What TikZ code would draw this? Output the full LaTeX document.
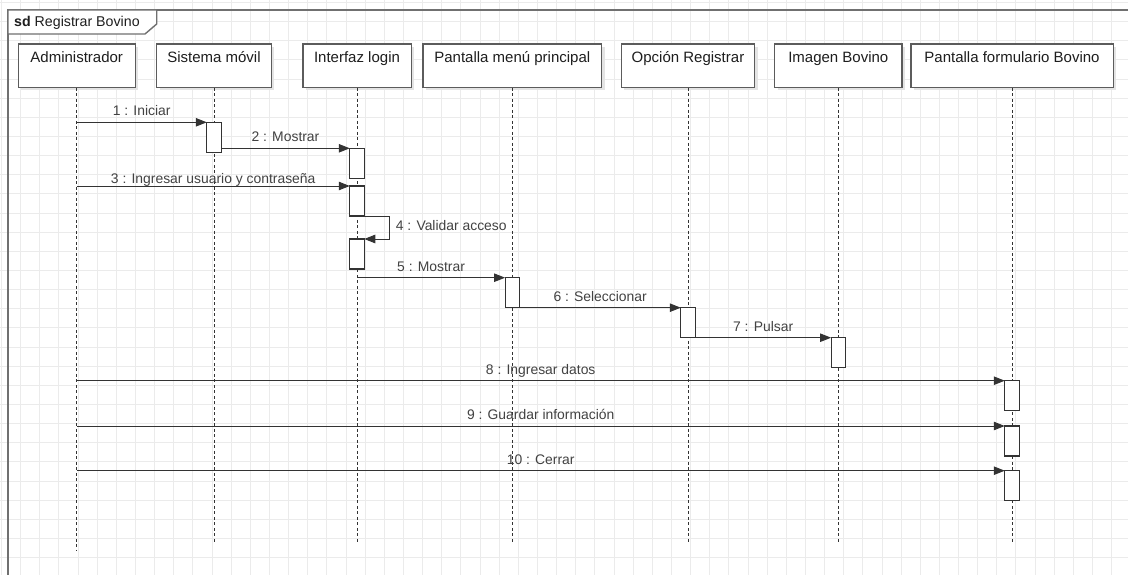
\documentclass[tikz,border=0pt]{standalone}
\usepackage{fontspec}
\setmainfont{Liberation Sans}
\usetikzlibrary{arrows.meta,shadows}

\definecolor{gridline}{HTML}{EBEBEB}
\definecolor{framec}{HTML}{707070}
\definecolor{boxc}{HTML}{5C5C5C}
\definecolor{shadowc}{HTML}{E4E4E4}
\definecolor{inkc}{HTML}{333333}
\definecolor{headtext}{HTML}{1E1E1E}
\definecolor{labelc}{HTML}{424242}

\tikzset{
  gridstroke/.style={draw=gridline, line width=1pt},
  frame/.style={draw=framec, line width=1.4pt},
  head/.style={draw=boxc, line width=1.3pt, fill=white,
    drop shadow={shadow xshift=3pt, shadow yshift=-3pt, fill=shadowc, opacity=1},
    inner xsep=0pt, inner ysep=0pt, minimum height=43.3pt,
    text height=19pt, text depth=24.3pt, text=headtext,
    font=\fontsize{15}{18}\selectfont},
  lifeline/.style={draw=inkc, line width=0.9pt, dash pattern=on 3pt off 2.5pt},
  act/.style={draw=inkc, line width=1.1pt, fill=white, inner sep=0pt, outer sep=0pt,
    minimum width=14.5pt, minimum height=30pt, anchor=north},
  msg/.style={draw=inkc, line width=0.9pt, -{Triangle[length=11pt,width=8.5pt]}},
  lbl/.style={text=labelc, font=\fontsize{13.9}{16}\selectfont, inner sep=0pt},
  msglbl/.style={lbl, midway, anchor=base, yshift=6.7pt},
}

\begin{document}
\begin{tikzpicture}[x=1pt,y=-1pt]
\useasboundingbox (0,0) rectangle (1128,575);
\fill[white] (0,0) rectangle (1128,575);

% background grid
\foreach \i in {0,...,58} {
  \draw[gridstroke] ({1.56+19.14*\i},0) -- ({1.56+19.14*\i},575);
}
\foreach \j in {0,...,29} {
  \draw[gridstroke] (0,{2.56+19.14*\j}) -- (1128,{2.56+19.14*\j});
}

% interaction frame
\draw[frame] (8,575) -- (8,10) -- (1128,10);
\draw[frame, fill=white] (8,10) -- (156.7,10) -- (156.7,24) -- (145,34) -- (8,34) -- cycle;
\node[lbl, text=headtext, font=\fontsize{14.2}{17}\selectfont, anchor=base west] (sd) at (14,26.7)
  {\textbf{sd} Registrar Bovino};

% participants
\node[head, minimum width=117pt]   (admin)   at (76.7,65.65)  {Administrador};
\node[head, minimum width=114.7pt] (sistema) at (214,65.65)   {Sistema móvil};
\node[head, minimum width=108.3pt] (login)   at (357,65.65)   {Interfaz login};
\node[head, minimum width=178.4pt] (menu)    at (512.3,65.65) {Pantalla menú principal};
\node[head, minimum width=133.3pt] (opcion)  at (688,65.65)   {Opción Registrar};
\node[head, minimum width=127.4pt] (imagen)  at (838.3,65.65) {Imagen Bovino};
\node[head, minimum width=202.3pt] (form)    at (1012,65.65)  {Pantalla formulario Bovino};

% lifelines
\coordinate (adminE)   at (admin.south |- 0,550);
\coordinate (sistemaE) at (sistema.south |- 0,543);
\coordinate (loginE)   at (login.south |- 0,543);
\coordinate (menuE)    at (menu.south |- 0,543);
\coordinate (opcionE)  at (opcion.south |- 0,543);
\coordinate (imagenE)  at (imagen.south |- 0,543);
\coordinate (formE)    at (form.south |- 0,543);
\foreach \p in {admin,sistema,login,menu,opcion,imagen,form} {
  \draw[lifeline] (\p.south) -- (\p E);
}

% activations
\node[act] (act1)  at (sistema.south |- 0,122.3) {};
\node[act] (act2)  at (login.south |- 0,148.3) {};
\node[act] (act3)  at (login.south |- 0,186) {};
\node[act] (act4)  at (login.south |- 0,239) {};
\node[act] (act5)  at (menu.south |- 0,277.7) {};
\node[act] (act6)  at (opcion.south |- 0,307.7) {};
\node[act] (act7)  at (imagen.south |- 0,337.7) {};
\node[act] (act8)  at (form.south |- 0,380.7) {};
\node[act] (act9)  at (form.south |- 0,426) {};
\node[act] (act10) at (form.south |- 0,470.7) {};

% messages
\draw[msg] (admin.south |- act1.north west) -- (act1.north west)
  node[msglbl] (m1) {1 : Iniciar};
\draw[msg] (act1.east |- act2.north west) -- (act2.north west)
  node[msglbl] (m2) {2 : Mostrar};
\draw[msg] (admin.south |- act3.north west) -- (act3.north west)
  node[msglbl, yshift=-4pt] (m3) {3 : Ingresar usuario y contraseña};
\coordinate (loop4) at ([xshift=25pt]act3.south east);
\draw[msg] (act3.south east) -- (loop4) |- (act4.north east);
\node[lbl, anchor=base west] (m4) at (395.7,230.7) {4 : Validar acceso};
\draw[msg] (login.south |- act5.north west) -- (act5.north west)
  node[msglbl] (m5) {5 : Mostrar};
\draw[msg] (act5.south east) -- (act6.north west)
  node[msglbl] (m6) {6 : Seleccionar};
\draw[msg] (act6.south east) -- (act7.north west)
  node[msglbl] (m7) {7 : Pulsar};
\draw[msg] (admin.south |- act8.north west) -- (act8.north west)
  node[msglbl] (m8) {8 : Ingresar datos};
\draw[msg] (admin.south |- act9.north west) -- (act9.north west)
  node[msglbl] (m9) {9 : Guardar información};
\draw[msg] (admin.south |- act10.north west) -- (act10.north west)
  node[msglbl] (m10) {10 : Cerrar};
\end{tikzpicture}
\end{document}
